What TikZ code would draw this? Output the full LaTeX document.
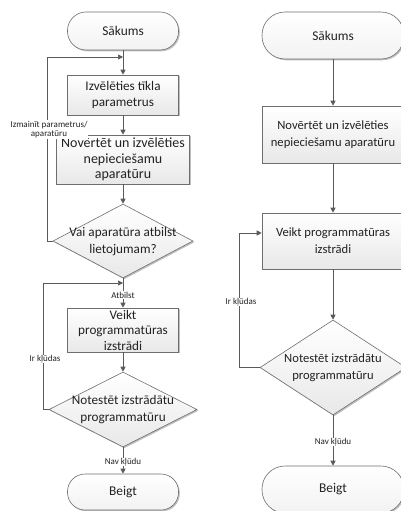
\documentclass[tikz,border=0pt]{standalone}
\usepackage{fontspec}
\setmainfont{Carlito}
\usetikzlibrary{arrows.meta,shapes.geometric,shadows}

\definecolor{edge}{HTML}{6E6E6E}
\definecolor{wire}{HTML}{5A5A5A}
\definecolor{ink}{HTML}{222222}

\tikzset{
  x=1pt, y=-1pt,
  shapebase/.style={draw=edge, line width=0.6pt, text=ink, align=center, inner sep=0pt,
    top color=white, bottom color=black!9,
    drop shadow={shadow xshift=1.3pt, shadow yshift=-1.3pt, opacity=0.25, fill=black}},
  procbox/.style={shapebase, rectangle},
  term/.style={shapebase, rectangle, top color=white, bottom color=black!5},
  decision/.style={shapebase, diamond, aspect=1},
  flow/.style={draw=wire, line width=0.7pt, -{Triangle[length=5pt,width=5pt]}},
  lbl/.style={fill=white, inner sep=0.5pt, text=ink, align=center, font=\fontsize{9}{9.5}\selectfont},
  fL/.style={font=\fontsize{13.2}{15.5}\selectfont},
  fLd/.style={font=\fontsize{13.2}{17}\selectfont},
  fR/.style={font=\fontsize{12.6}{17}\selectfont},
  fT/.style={font=\fontsize{13.4}{16}\selectfont},
}

\begin{document}
\begin{tikzpicture}
\useasboundingbox (0,0) rectangle (401,511);
\clip (0,0) rectangle (401,511);

% ---------- left flowchart ----------
\node[term, fT, minimum width=111pt, minimum height=38pt, rounded corners=18.5pt] (s1) at (123,31) {Sākums};
\node[procbox, fL, minimum width=111pt, minimum height=40pt] (b1) at (123,95) {Izvēlēties tīkla\\parametrus};
\node[procbox, font=\fontsize{14}{15.5}\selectfont, minimum width=133pt, minimum height=49pt] (b2) at (123,159.5) {Novērtēt un izvēlēties\\nepieciešamu\\aparatūru};
\node[decision, minimum width=140pt, minimum height=74pt] (d1) at (123,241) {};
\node[fLd, text=ink, align=center] (t1) at (123,242) {Vai aparatūra atbilst\\lietojumam?};
\node[procbox, fL, minimum width=111pt, minimum height=44pt] (b3) at (123,330) {Veikt\\programmatūras\\izstrādi};
\node[decision, minimum width=148pt, minimum height=75pt] (d2) at (123,409.5) {};
\node[fLd, text=ink, align=center] (t2) at (123,410) {Notestēt izstrādātu\\programmatūru};
\node[term, fT, minimum width=111pt, minimum height=36pt, rounded corners=17.5pt] (e1) at (123,492) {Beigt};

\coordinate (j1) at (123,57);
\coordinate (j2) at (123,283);

\draw[flow] (s1) -- (b1);
\draw[flow] (b1) -- (b2);
\draw[flow] (b2) -- (d1);
\draw[flow] (d1) -- (b3);
\draw[flow] (b3) -- (d2);
\draw[flow] (d2) -- (e1);
\draw[flow] (d1.west) -- ++(-5,0) |- (j1);
\draw[flow] (d2.west) -- ++(-5,0) |- (j2);

\node[lbl] (m1) at (49,129.5) {Izmainīt parametrus/\\aparatūru};
\node[lbl] (m2) at (123,295) {Atbilst};
\node[lbl] (m3) at (45,359) {Ir kļūdas};
\node[lbl] (m4) at (123,462) {Nav kļūdu};

% ---------- right flowchart ----------
\node[term, fT, minimum width=142pt, minimum height=47pt, rounded corners=23pt] (s2) at (333,35.5) {Sākums};
\node[procbox, fR, minimum width=142pt, minimum height=57pt] (r1) at (333,134.5) {Novērtēt un izvēlēties\\nepieciešamu aparatūru};
\node[procbox, fR, minimum width=142pt, minimum height=56pt] (r2) at (333,241) {Veikt programmatūras\\izstrādi};
\node[decision, minimum width=146pt, minimum height=95pt] (d3) at (333,367.5) {};
\node[fR, text=ink, align=center] (t3) at (333,368) {Notestēt izstrādātu\\programmatūru};
\node[term, fT, minimum width=142pt, minimum height=47pt, rounded corners=23pt] (e2) at (333,489.5) {Beigt};

\draw[flow] (s2) -- (r1);
\draw[flow] (r1) -- (r2);
\draw[flow] (r2) -- (d3);
\draw[flow] (d3) -- (e2);
\draw[flow] (d3.west) -- ++(-20,0) |- ([yshift=8pt]r2.west);

\node[lbl] (m5) at (241,302) {Ir kļūdas};
\node[lbl] (m6) at (333,442) {Nav kļūdu};
\end{tikzpicture}
\end{document}
